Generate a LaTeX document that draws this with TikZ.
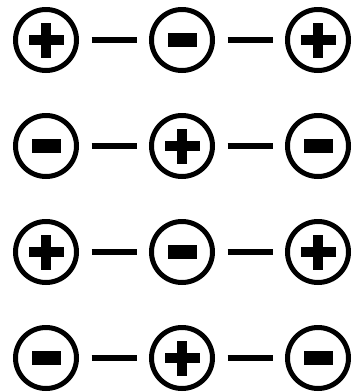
\documentclass[tikz,border=0pt]{standalone}
\usepackage{xcolor}
\usepackage{tikz}
\usetikzlibrary{positioning}

\begin{document}
\begin{tikzpicture}[x=1pt,y=1pt,node distance=40pt and 70pt]
  \tikzstyle{charge}=[circle,draw=black,line width=5pt,minimum size=61pt,inner sep=0pt]
  \tikzstyle{poschg}=[charge,path picture={
      \fill[black] (path picture bounding box.center) ++(-17.5pt,-5pt) rectangle ++(35pt,10pt);
      \fill[black] (path picture bounding box.center) ++(-5pt,-17.5pt) rectangle ++(10pt,35pt);}]
  \tikzstyle{negchg}=[charge,path picture={
      \fill[black] (path picture bounding box.center) ++(-14.5pt,-7pt) rectangle ++(29pt,14pt);}]
  \tikzstyle{bond}=[black,line width=6pt,shorten <=12.5pt,shorten >=12.5pt]
  \useasboundingbox (0,0) rectangle (356,-392);
  % row 1
  \node[poschg] (a1) at (46,-40) {};
  \node[negchg,right=of a1] (b1) {};
  \node[poschg,right=of b1] (c1) {};
  % row 2
  \node[negchg,below=of a1] (a2) {};
  \node[poschg,right=of a2] (b2) {};
  \node[negchg,right=of b2] (c2) {};
  % row 3
  \node[poschg,below=of a2] (a3) {};
  \node[negchg,right=of a3] (b3) {};
  \node[poschg,right=of b3] (c3) {};
  % row 4
  \node[negchg,below=of a3] (a4) {};
  \node[poschg,right=of a4] (b4) {};
  \node[negchg,right=of b4] (c4) {};
  \draw[bond] (a1)--(b1); \draw[bond] (b1)--(c1);
  \draw[bond] (a2)--(b2); \draw[bond] (b2)--(c2);
  \draw[bond] (a3)--(b3); \draw[bond] (b3)--(c3);
  \draw[bond] (a4)--(b4); \draw[bond] (b4)--(c4);
\end{tikzpicture}
\end{document}
